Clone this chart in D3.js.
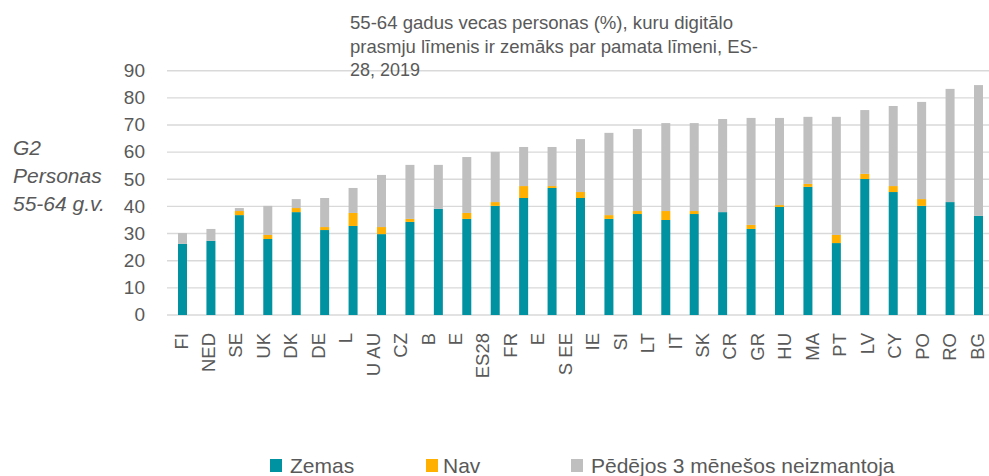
<!DOCTYPE html>
<html>
<head>
<meta charset="utf-8">
<script src="https://cdn.jsdelivr.net/npm/d3@7"></script>
<style>
  html, body { margin: 0; padding: 0; background: #fff; }
  svg { display: block; font-family: "Liberation Sans", Arial, sans-serif; }
</style>
</head>
<body>
<svg id="chart" width="989" height="476"></svg>
<script>
// ---- data ----
const titleLines = [
  "55-64 gadus vecas personas (%), kuru digitālo",
  "prasmju līmenis ir zemāks par pamata līmeni, ES-",
  "28, 2019"
];
const yLabelLines = ["G2", "Personas", "55-64 g.v."];
const categoryLabels = ["FI","NED","SE","UK","DK","DE","L","U AU","CZ","B","E","ES28","FR","E","S EE",
  "IE","SI","LT","IT","SK","CR","GR","HU","MA","PT","LV","CY","PO","RO","BG"];
const yTicks = [0,10,20,30,40,50,60,70,80,90];
const seriesNames = ["Zemas", "Nav", "Pēdējos 3 mēnešos neizmantoja"];
const zemas = [26.2,27.3,36.8,28.0,37.9,31.3,32.8,29.8,34.3,39.1,35.4,40.2,43.1,46.8,43.1,
  35.4,37.2,35.0,37.2,37.9,31.7,39.8,47.2,26.5,50.1,45.3,40.2,41.6,36.5];
const nav = [0,0,1.5,1.5,1.5,1.1,4.8,2.6,1.1,0,2.2,1.4,4.4,0.7,2.2,
  1.4,1.1,3.3,1.1,0,1.5,0.7,1.1,3.0,1.9,2.2,2.5,0,0];
const neizmantoja = [4.0,4.4,1.1,10.7,3.3,10.7,9.2,19.2,19.9,16.2,20.6,18.5,14.4,14.4,19.5,
  30.3,30.2,32.4,32.4,34.3,39.4,32.1,24.7,43.5,23.5,29.5,35.8,41.7,48.2];
const colors = ["#0092A0", "#FFB000", "#BFBFBF"];

// ---- layout ----
const svg = d3.select("#chart");
const textColor = "#595959";
const plotLeft = 167, plotRight = 989;
const y = d3.scaleLinear().domain([0, 90]).range([315, 70.7]);
const barIdx = d3.range(zemas.length);
const xBar = d3.scalePoint().domain(barIdx).range([182.5, 978.5]);
const xLab = d3.scalePoint().domain(d3.range(categoryLabels.length)).range([181, 977]);
const barW = 9;

// gridlines
svg.append("g").selectAll("line").data(yTicks).join("line")
  .attr("x1", plotLeft).attr("x2", plotRight)
  .attr("y1", d => y(d)).attr("y2", d => y(d))
  .attr("stroke", "#D9D9D9").attr("stroke-width", 1.4);

// title (one text element per line)
const titleWidths = [383, 408, 70];
svg.append("g").selectAll("text").data(titleLines).join("text")
  .attr("x", 350).attr("y", (d, i) => 29 + i * 23.5)
  .attr("font-size", 18.5).attr("fill", textColor)
  .attr("textLength", (d, i) => titleWidths[i]).attr("lengthAdjust", "spacingAndGlyphs")
  .text(d => d);

// y tick labels
svg.append("g").selectAll("text").data(yTicks).join("text")
  .attr("x", 145).attr("y", d => y(d)).attr("dy", "0.33em")
  .attr("text-anchor", "end").attr("font-size", 19).attr("fill", textColor)
  .text(d => d);

// y label
svg.append("g").selectAll("text").data(yLabelLines).join("text")
  .attr("x", 13).attr("y", (d, i) => 155 + i * 28)
  .attr("font-size", 21).attr("font-style", "italic").attr("fill", textColor)
  .text(d => d);

// stacked bars
const rows = barIdx.map(i => ({i, a: zemas[i], b: nav[i], c: neizmantoja[i]}));
const stack = d3.stack().keys(["a", "b", "c"])(rows);
svg.append("g").selectAll("g").data(stack).join("g")
  .attr("fill", (d, k) => colors[k])
  .selectAll("rect").data(d => d).join("rect")
  .attr("x", d => xBar(d.data.i) - barW / 2)
  .attr("width", barW)
  .attr("y", d => y(d[1]))
  .attr("height", d => Math.max(0, y(d[0]) - y(d[1])));

// x labels
svg.append("g").selectAll("text").data(categoryLabels).join("text")
  .attr("transform", (d, i) => `translate(${xLab(i)},333) rotate(-90)`)
  .attr("text-anchor", "end").attr("dominant-baseline", "central")
  .attr("font-size", 18.5).attr("fill", textColor)
  .text(d => d);

// legend
const legX = [270, 426, 571];
const leg = svg.append("g").selectAll("g").data(seriesNames).join("g")
  .attr("transform", (d, i) => `translate(${legX[i]},0)`);
leg.append("rect").attr("x", 0).attr("y", 459).attr("width", 12).attr("height", 13)
  .attr("fill", (d, i) => colors[i]);
leg.append("text").attr("x", (d, i) => i === 0 ? 20 : (i === 1 ? 17 : 20)).attr("y", 473)
  .attr("font-size", 21).attr("fill", textColor).text(d => d);
</script>
</body>
</html>
